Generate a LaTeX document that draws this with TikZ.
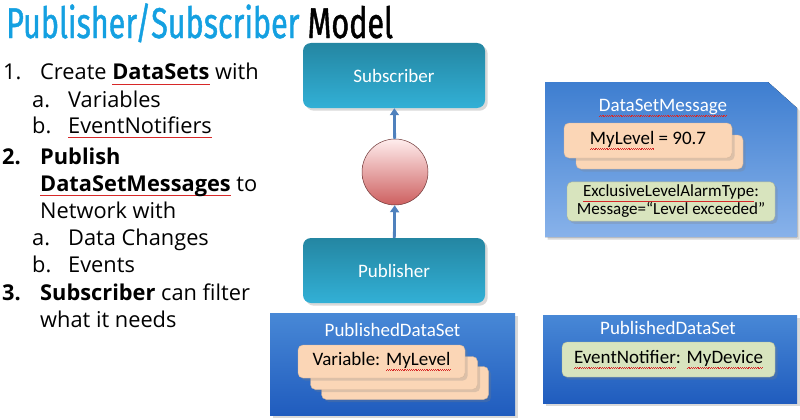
\documentclass[tikz,border=0pt]{standalone}
\usepackage{fontspec}
\setmainfont{Open Sans}
\newfontfamily\boxfont{Carlito}
\newfontfamily\titlefont[FakeStretch=0.71,FakeBold=1]{Fira Sans}
\usetikzlibrary{arrows.meta,shadows}
\definecolor{titleblue}{RGB}{20,160,225}
\definecolor{spellred}{RGB}{215,40,40}
\definecolor{roletop}{RGB}{36,134,162}
\definecolor{rolebot}{RGB}{50,176,214}
\definecolor{settop}{RGB}{72,136,214}
\definecolor{setbot}{RGB}{32,92,190}
\definecolor{msgtop}{RGB}{62,126,208}
\definecolor{msgbot}{RGB}{136,178,234}
\definecolor{peach}{RGB}{251,214,182}
\definecolor{leaf}{RGB}{216,228,190}
\definecolor{arrowblue}{RGB}{79,129,189}
% wavy spell-check underline
\newcommand\sq[1]{\setbox0=\hbox{#1}\rlap{\hbox to\wd0{\color{spellred}\xleaders\hbox{\rule[-5pt]{.9pt}{.7pt}\rule[-4.3pt]{.9pt}{.7pt}}\hfill}}\box0\relax}
\begin{document}
\begin{tikzpicture}[x=1pt, y=-1pt,
	item/.style={anchor=base west, inner sep=0pt, font=\fontsize{21.8}{24}\selectfont},
	role/.style={rounded corners=8pt, minimum width=182pt, minimum height=65pt, top color=roletop, bottom color=rolebot, text=white, font=\boxfont\fontsize{19}{22}\selectfont, drop shadow={opacity=.3}},
	setbox/.style={top color=settop, bottom color=setbot, drop shadow={opacity=.3}},
	settitle/.style={text=white, font=\boxfont\fontsize{19}{22}\selectfont},
	varbox/.style={rounded corners=5pt, fill=peach, draw=peach!85!black, line width=.4pt, minimum width=167pt, minimum height=33pt, font=\boxfont\fontsize{19}{22}\selectfont, drop shadow={opacity=.25}},
	evbox/.style={rounded corners=5pt, fill=leaf, draw=leaf!80!black, line width=.4pt, font=\boxfont\fontsize{19}{22}\selectfont, drop shadow={opacity=.25}},
	flow/.style={arrowblue, line width=2.8pt, -{Triangle[length=7pt,width=9pt]}}]
	\useasboundingbox (0,0) rectangle (800,420);
	% title
	\node[anchor=base west, inner sep=0pt, font=\titlefont\fontsize{43}{48}\selectfont] (title) at (6,38) {\textcolor{titleblue}{Publisher/Subscriber} Model};
	% list
	\node[item] (n1) at (3,80) {1.};
	\node[item] (t1) at (40,80) {Create \textbf{\sq{DataSets}} with};
	\node[item] (n1a) at (32,107) {a.};
	\node[item] (t1a) at (68,107) {Variables};
	\node[item] (n1b) at (32,133) {b.};
	\node[item] (t1b) at (68,133) {\sq{EventNotifiers}};
	\node[item] (n2) at (2,164) {\textbf{2.}};
	\node[item] (t2) at (40,164) {\textbf{Publish}};
	\node[item] (t2b) at (40,191) {\textbf{\sq{DataSetMessages}} to};
	\node[item] (t2c) at (40,218) {Network with};
	\node[item] (n2a) at (32,245) {a.};
	\node[item] (t2a) at (68,245) {Data Changes};
	\node[item] (n2b) at (32,272) {b.};
	\node[item] (t2e) at (68,272) {Events};
	\node[item] (n3) at (2,300) {\textbf{3.}};
	\node[item] (t3) at (40,300) {\textbf{Subscriber} can filter};
	\node[item] (t3b) at (40,327) {what it needs};
	% publisher / subscriber
	\node[role] (sub) at (394,75.5) {Subscriber};
	\node[role] (pub) at (394,270.5) {Publisher};
	\node[circle, minimum size=66pt, top color=red!7, bottom color={rgb,255:red,205;green,95;blue,95}, draw={rgb,255:red,110;green,55;blue,55}, line width=.5pt] (net) at (395,172) {};
	\draw[flow] (pub) -- (net);
	\draw[flow] (net) -- (sub);
	% published data sets
	\node[setbox, minimum width=245pt, minimum height=102pt] (pds1) at (392.5,364) {};
	\node[settitle] (pds1t) at (392.5,330) {PublishedDataSet};
	\node[varbox] (v3) at (405,383) {};
	\node[varbox] (v2) at (394,373) {};
	\node[varbox] (v1) at (381.5,361.5) {Variable: \sq{MyLevel}};
	\node[setbox, minimum width=254pt, minimum height=88pt] (pds2) at (670,359) {};
	\node[settitle] (pds2t) at (668,328) {PublishedDataSet};
	\node[evbox, minimum width=213pt, minimum height=35pt] (ev) at (668.5,359.5) {\sq{EventNotifier}: \sq{MyDevice}};
	% data set message
	\fill[top color=msgtop, bottom color=msgbot, drop shadow={opacity=.3}] (545,82) -- (768,82) -- (797,108) -- (797,237) -- (545,237) -- cycle;
	\node[settitle] (msgt) at (663,108) {\sq{DataSetMessage}};
	\node[varbox, minimum width=167pt, minimum height=34pt] (m2) at (659.5,152) {};
	\node[varbox, minimum width=168pt, minimum height=35pt] (m1) at (648,140.5) {\sq{MyLevel} = 90.7};
	\node[evbox, minimum width=208pt, minimum height=33pt, align=center, font=\boxfont\fontsize{17}{18}\selectfont] (alarm) at (671,201.5) {\sq{ExclusiveLevelAlarmType}:\\Message=“Level exceeded”};
\end{tikzpicture}
\end{document}
